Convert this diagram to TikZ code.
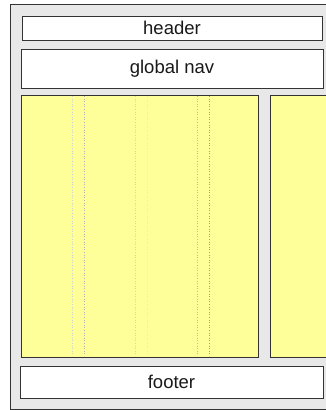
\documentclass[tikz,border=0pt]{standalone}
\usepackage{fontspec}
\setmainfont{Liberation Sans}
\usepackage{tikz}

\definecolor{pagegray}{HTML}{E8E8E8}
\definecolor{colyellow}{HTML}{FFFF99}
\definecolor{edgegray}{HTML}{333333}

\tikzset{
    region/.style={draw=edgegray, line width=1pt, fill=white, inner sep=0pt,
        font=\fontsize{18.5}{22}\selectfont, text=black!90},
    column/.style={region, fill=colyellow}
}

\begin{document}
\begin{tikzpicture}[x=1pt, y=-1pt]
    % Fix the page size
    \useasboundingbox (0,0) rectangle (326,410);
    \clip (0,0) rectangle (326,410);
    % Draw the page background
    \draw[draw=edgegray, line width=1pt, fill=pagegray] (10,4) rectangle (340,409);
    % Draw the header and the global nav
    \node[region, minimum width=300pt, minimum height=24pt] (header) at (172,28) {header};
    \node[region, minimum width=302pt, minimum height=39pt] (globalnav) at (172,68.5) {global nav};
    % Draw the two columns
    \node[column, minimum width=237pt, minimum height=262pt] (maincol) at (139.5,226) {};
    \node[column, minimum width=80pt, minimum height=262pt] (sidecol) at (310,226) {};
    % Draw the faint dotted guides in the main column
    \foreach \gx/\shade in {72/18, 84/30, 135/18, 147/10, 197/28, 209/38}
        \draw[black!\shade, dotted, line width=0.6pt] (\gx,96) -- (\gx,356);
    % Draw the footer
    \node[region, minimum width=303pt, minimum height=32pt] (footer) at (171.5,382) {footer};
\end{tikzpicture}
\end{document}
